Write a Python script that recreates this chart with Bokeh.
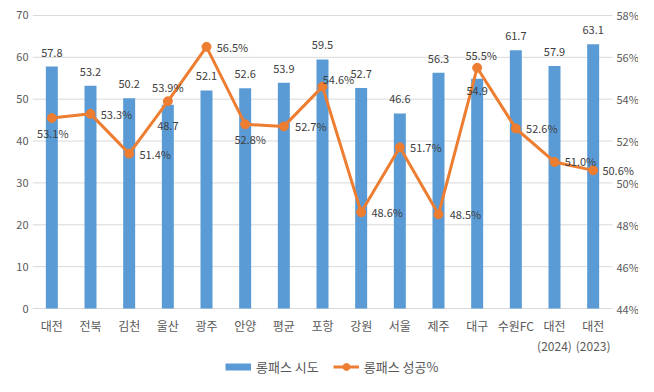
from bokeh.plotting import figure
from bokeh.layouts import column
from bokeh.models import (Range1d, LinearAxis, FixedTicker, Legend, LegendItem,
                          ColumnDataSource, Label)
from bokeh.embed import file_html
from bokeh.resources import INLINE

# ---- data ----
categories = ["대전", "전북", "김천", "울산", "광주", "안양", "평균", "포항", "강원", "서울",
              "제주", "대구", "수원FC", "대전(2024)", "대전(2023)"]
tick_main = ["대전", "전북", "김천", "울산", "광주", "안양", "평균", "포항", "강원", "서울",
             "제주", "대구", "수원FC", "대전", "대전"]
tick_sub = ["", "", "", "", "", "", "", "", "", "", "", "", "", "(2024)", "(2023)"]
long_pass_attempts = [57.8, 53.2, 50.2, 48.7, 52.1, 52.6, 53.9, 59.5, 52.7, 46.6, 56.3, 54.9, 61.7, 57.9, 63.1]
long_pass_success = [53.1, 53.3, 51.4, 53.9, 56.5, 52.8, 52.7, 54.6, 48.6, 51.7, 48.5, 55.5, 52.6, 51.0, 50.6]
left_ticks = [0, 10, 20, 30, 40, 50, 60, 70]
right_ticks = [44, 46, 48, 50, 52, 54, 56, 58]

# ---- label placement (screen px, up positive) ----
bar_label_dy = [14, 14, 14, -21, 14, 14, 14, 14, 14, 14, 14, -12, 14, 14, 14]
pct_label_dx = [1, 26, 26, 0, 26, 5, 27, 16, 26, 26, 27, 4, 26, 26, 25]
pct_label_dy = [-15, 0, 0, 14, 0, -15, 0, 8, 0, 0, 0, 13, 0, 1, 0]

# ---- geometry (px) ----
W, H_MAIN, H_LEG = 638, 356, 20
LEFT = 32
FRAME_W = W - LEFT     # frame runs to the right edge so outer labels are not cut
PLOT_W = 580           # width of the category area
PLOT_H = 294           # height between 0 and 70
PAD_TOP, PAD_BOT = 15, 6
n = len(categories)
cat_px = PLOT_W / n
l_px = PLOT_H / (left_ticks[-1] - left_ticks[0])
r_px = PLOT_H / (right_ticks[-1] - right_ticks[0])

FONT = "Noto Sans CJK KR"
BLUE = "#5b9bd5"
ORANGE = "#ed7d31"
GRID = "#d9d9d9"
TICK = "#595959"
LABEL = "#404040"

xpos = list(range(n))

p = figure(width=W, height=H_MAIN, output_backend="svg", toolbar_location=None,
           x_range=Range1d(-0.5, -0.5 + FRAME_W / cat_px),
           y_range=Range1d(left_ticks[0] - PAD_BOT / l_px, left_ticks[-1] + PAD_TOP / l_px))
p.min_border_left = LEFT
p.min_border_right = 0
p.min_border_top = 0
p.min_border_bottom = H_MAIN - PAD_TOP - PLOT_H - PAD_BOT
p.outline_line_color = None
p.extra_y_ranges = {"pct": Range1d(right_ticks[0] - PAD_BOT / r_px, right_ticks[-1] + PAD_TOP / r_px)}

# gridlines limited to the category area
p.segment(x0=[-0.5] * len(left_ticks), x1=[n - 0.5] * len(left_ticks),
          y0=left_ticks, y1=left_ticks, line_color=GRID, line_width=1)

bar_src = ColumnDataSource(dict(x=xpos, v=long_pass_attempts))
pct_src = ColumnDataSource(dict(x=xpos, v=long_pass_success))

p.vbar(x="x", top="v", width=0.31, source=bar_src, fill_color=BLUE, line_color=None)
p.line(x="x", y="v", source=pct_src, y_range_name="pct", line_color=ORANGE, line_width=3)
p.scatter(x="x", y="v", source=pct_src, y_range_name="pct", size=9,
          fill_color=ORANGE, line_color=ORANGE)

for i, v in enumerate(long_pass_attempts):
    p.add_layout(Label(x=xpos[i], y=v, text=f"{v:.1f}", y_offset=bar_label_dy[i],
                       text_align="center", text_baseline="middle", text_font_size="11px",
                       text_font=FONT, text_color=LABEL))
for i, v in enumerate(long_pass_success):
    p.add_layout(Label(x=xpos[i], y=v, text=f"{v:.1f}%", y_range_name="pct",
                       x_offset=pct_label_dx[i], y_offset=pct_label_dy[i],
                       text_align="center", text_baseline="middle", text_font_size="11px",
                       text_font=FONT, text_color=LABEL))

# right-hand percentage scale
for t in right_ticks:
    p.add_layout(Label(x=n - 0.5, y=t, text=f"{t}%", y_range_name="pct", x_offset=4,
                       text_align="left", text_baseline="middle", text_font_size="11px",
                       text_font=FONT, text_color=TICK))

# left axis
p.yaxis.ticker = FixedTicker(ticks=left_ticks)
p.yaxis.axis_line_color = None
p.yaxis.major_tick_line_color = None
p.yaxis.minor_tick_line_color = None
p.yaxis.major_tick_out = 0
p.yaxis.major_tick_in = 0
p.yaxis.minor_tick_out = 0
p.yaxis.major_label_standoff = 4
p.yaxis.major_label_text_font = FONT
p.yaxis.major_label_text_font_size = "11px"
p.yaxis.major_label_text_color = TICK

def style_x(ax, standoff):
    ax.ticker = FixedTicker(ticks=xpos)
    ax.axis_line_color = None
    ax.major_tick_line_color = None
    ax.minor_tick_line_color = None
    ax.major_tick_out = 0
    ax.major_tick_in = 0
    ax.minor_tick_out = 0
    ax.major_label_standoff = standoff
    ax.major_label_text_font = FONT
    ax.major_label_text_font_size = "12px"
    ax.major_label_text_color = TICK

xa = p.xaxis[0]
style_x(xa, 2)
xa.major_label_overrides = {i: t for i, t in zip(xpos, tick_main)}

xb = LinearAxis()
style_x(xb, 0)
xb.major_label_overrides = {i: t for i, t in zip(xpos, tick_sub)}
p.add_layout(xb, "below")

p.grid.visible = False

# ---- legend strip ----
q = figure(width=W, height=H_LEG, output_backend="svg", toolbar_location=None,
           x_range=Range1d(0, 1), y_range=Range1d(0, 1))
q.min_border = 0
q.axis.visible = False
q.grid.visible = False
q.outline_line_color = None
nan = float("nan")
bar_proxy = q.line(x=[nan], y=[nan], line_color=BLUE, line_width=7)
line_proxy = q.line(x=[nan], y=[nan], line_color=ORANGE, line_width=3)
dot_proxy = q.scatter(x=[nan], y=[nan], size=8, fill_color=ORANGE, line_color=ORANGE)
legend = Legend(items=[LegendItem(label="롱패스 시도", renderers=[bar_proxy]),
                       LegendItem(label="롱패스 성공%", renderers=[line_proxy, dot_proxy])],
                orientation="horizontal", location=(225 - LEFT, 0),
                margin=0, padding=0, spacing=14, label_standoff=5,
                glyph_width=26, glyph_height=17, label_height=17,
                border_line_color=None, background_fill_alpha=0,
                label_text_font=FONT, label_text_font_size="13px", label_text_color=TICK)
q.add_layout(legend, "center")

open("out.html", "w").write(file_html(column(p, q, spacing=0), INLINE))
